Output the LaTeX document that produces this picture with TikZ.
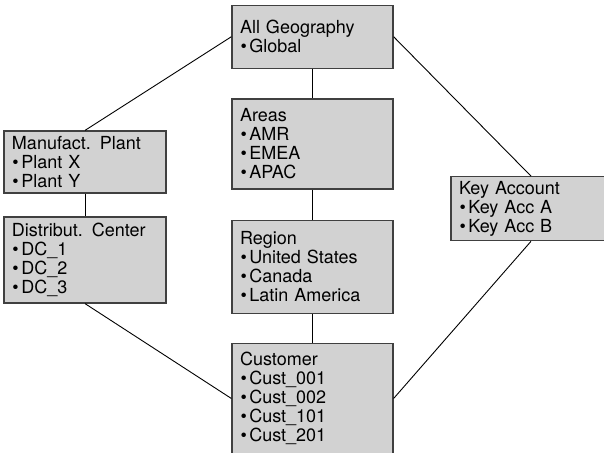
\documentclass[tikz,border=0pt]{standalone}
\usepackage{fontspec}
\setmainfont{TeX Gyre Heros}
\usepackage{tikz}
\usetikzlibrary{positioning}
\tikzstyle{level} = [draw=black!75, fill=gray!35, line width=1.2pt, align=left, inner xsep=8pt,
                     inner ysep=0pt, font=\fontsize{18}{19}\selectfont]
\tikzstyle{link} = [line width=0.9pt, draw=black]
\newcommand{\bul}{\hspace{0.5pt}\textbullet\hspace{2.5pt}}

\begin{document}
\begin{tikzpicture}[x=1pt, y=-1pt]
				\useasboundingbox (0, 0) rectangle (604, 452);
				\clip (0, 0) rectangle (604, 452);

				% geography chain
				\node (AllGeo) [level, text width=145pt, minimum height=63pt] at (312.5, 36.7)
					{All Geography\\\bul Global};
				\node (Areas) [level, text width=145pt, minimum height=90pt] at (312.5, 144)
					{Areas\\\bul AMR\\\bul EMEA\\\bul APAC};
				\node (Region) [level, text width=145pt, minimum height=93pt] at (312.5, 266.7)
					{Region\\\bul United States\\\bul Canada\\\bul Latin America};
				\node (Customer) [level, text width=145pt, minimum height=110pt] at (312.5, 398.5)
					{Customer\\\bul Cust\_001\\\bul Cust\_002\\\bul Cust\_101\\\bul Cust\_201};
				\draw [link] (AllGeo) -- (Areas);
				\draw [link] (Areas) -- (Region);
				\draw [link] (Region) -- (Customer);

				% plant side
				\node (Plant) [level, text width=146pt, minimum height=62pt] at (85, 162)
					{Manufact. Plant\\\bul Plant X\\\bul Plant Y};
				\node (DistCenter) [level, text width=146pt, minimum height=86pt] at (85, 260)
					{Distribut. Center\\\bul DC\_1\\\bul DC\_2\\\bul DC\_3};
				\draw [link] (AllGeo.west) -- (Plant.north);
				\draw [link] (Plant) -- (DistCenter);
				\draw [link] (DistCenter.south) -- (Customer.west);

				% key account side
				\node (KeyAcc) [level, text width=144pt, minimum height=64pt] at (531, 208.7)
					{Key Account\\\bul Key Acc A\\\bul Key Acc B};
				\draw [link] (AllGeo.east) -- (KeyAcc.north);
				\draw [link] (KeyAcc.south) -- (Customer.east);
			\end{tikzpicture}
\end{document}
